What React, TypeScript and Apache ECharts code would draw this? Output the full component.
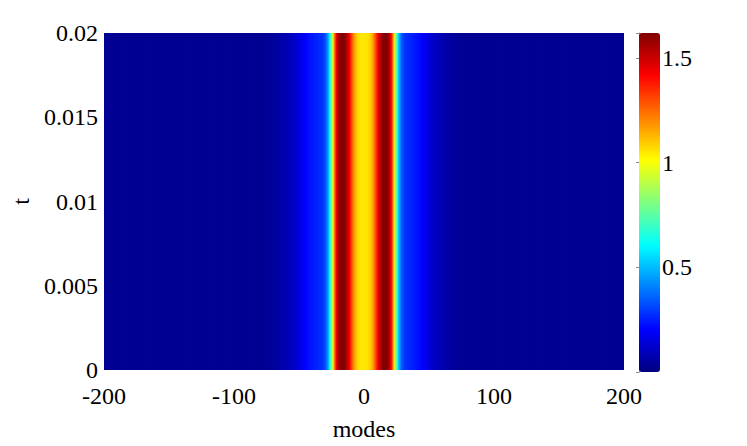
import React, { useEffect, useRef } from "react";
import * as echarts from "echarts";

// |mode| -> value profile (modes 0..80), symmetric in mode
const profile: number[] = [
  1.05, 1.05, 1.05, 1.06, 1.07, 1.09, 1.12, 1.16, 1.22, 1.29,
  1.36, 1.43, 1.49, 1.54, 1.58, 1.61, 1.62, 1.62, 1.61, 1.58,
  1.53, 1.44, 1.3, 1.12, 0.95, 0.78, 0.62, 0.5, 0.42, 0.36,
  0.32, 0.3, 0.28, 0.275, 0.27, 0.265, 0.26, 0.255, 0.25, 0.245,
  0.24, 0.235, 0.23, 0.22, 0.21, 0.2, 0.19, 0.18, 0.17, 0.16,
  0.15, 0.14, 0.13, 0.12, 0.115, 0.11, 0.1, 0.095, 0.09, 0.085,
  0.08, 0.075, 0.07, 0.066, 0.063, 0.06, 0.057, 0.054, 0.051, 0.048,
  0.045, 0.043, 0.041, 0.039, 0.037, 0.035, 0.034, 0.033, 0.032, 0.031,
  0.03,
];
const tailValue = 0.03;
const modeMin = -200;
const modeMax = 200;
const tMin = 0;
const tMax = 0.02;
const xTicks = [-200, -100, 0, 100, 200];
const yTicks = [0, 0.005, 0.01, 0.015, 0.02];
const cbarTicks = [0.5, 1, 1.5];
const cMin = 0;
const cMax = 1.62;
const jet = [
  "#000080", "#0000ff", "#0080ff", "#00ffff", "#80ff80",
  "#ffff00", "#ff8000", "#ff0000", "#800000",
];

const data: number[][] = [];
for (let m = modeMin; m <= modeMax; m++) {
  const a = Math.abs(m);
  data.push([m, a < profile.length ? profile[a] : tailValue]);
}

const FONT = "'Liberation Serif', 'Times New Roman', serif";
const FS = 24;

export default function App() {
  const ref = useRef<HTMLDivElement>(null);
  useEffect(() => {
    if (!ref.current) return;
    const chart = echarts.init(ref.current, null, { renderer: "svg" });
    chart.setOption({
      animation: false,
      backgroundColor: "#ffffff",
      grid: [
        { left: 104, right: 123, top: 33, bottom: 74 },
        { left: 639, width: 21, top: 33, bottom: 74 },
      ],
      xAxis: [
        {
          type: "value",
          gridIndex: 0,
          min: modeMin,
          max: modeMax,
          interval: 100,
          name: "modes",
          nameLocation: "middle",
          nameGap: 47,
          nameTextStyle: { fontFamily: FONT, fontSize: FS, color: "#000" },
          axisLine: { show: false },
          axisTick: { show: false },
          splitLine: { show: false },
          axisLabel: {
            fontFamily: FONT,
            fontSize: FS,
            color: "#000",
            margin: 14,
            formatter: (v: number) => (xTicks.includes(v) ? String(v) : ""),
          },
        },
        {
          type: "value",
          gridIndex: 1,
          min: 0,
          max: 1,
          show: false,
        },
      ],
      yAxis: [
        {
          type: "value",
          gridIndex: 0,
          min: tMin,
          max: tMax,
          interval: 0.005,
          name: "t",
          nameLocation: "middle",
          nameGap: 68,
          nameRotate: 90,
          nameTextStyle: { fontFamily: FONT, fontSize: FS, color: "#000" },
          axisLine: { show: false },
          axisTick: { show: false },
          splitLine: { show: false },
          axisLabel: {
            fontFamily: FONT,
            fontSize: FS,
            color: "#000",
            margin: 6,
            formatter: (v: number) => {
              const r = +v.toFixed(3);
              return yTicks.some((t) => Math.abs(t - r) < 1e-9) ? String(r) : "";
            },
          },
        },
        {
          type: "value",
          gridIndex: 1,
          position: "right",
          min: cMin,
          max: cMax,
          interval: 0.5,
          axisLine: { show: true, lineStyle: { color: "#888", width: 1 } },
          axisTick: { show: true, inside: true, length: 3, lineStyle: { color: "#888" } },
          splitLine: { show: false },
          axisLabel: {
            fontFamily: FONT,
            fontSize: FS,
            color: "#000",
            margin: 2,
            formatter: (v: number) => (cbarTicks.includes(+v.toFixed(2)) ? String(+v.toFixed(2)) : ""),
          },
        },
      ],
      visualMap: {
        type: "continuous",
        min: cMin,
        max: cMax,
        dimension: 1,
        seriesIndex: 0,
        calculable: false,
        realtime: false,
        showLabel: false,
        text: ["", ""],
        itemWidth: 21,
        itemHeight: 339,
        left: 639,
        top: 33,
        padding: 0,
        inRange: { color: jet },
      },
      series: [
        {
          type: "custom",
          xAxisIndex: 0,
          yAxisIndex: 0,
          clip: true,
          data,
          renderItem: (params: any, api: any) => {
            const m = api.value(0);
            const p0 = api.coord([m - 0.5, tMax]);
            const p1 = api.coord([m + 0.5, tMin]);
            const c = api.visual("color");
            return {
              type: "rect",
              shape: {
                x: p0[0],
                y: p0[1],
                width: p1[0] - p0[0] + 0.6,
                height: p1[1] - p0[1],
              },
              style: { fill: c, stroke: c, lineWidth: 0.6 },
            };
          },
        },
      ],
    });
    return () => chart.dispose();
  }, []);
  return <div ref={ref} style={{ width: 747, height: 446, position: "fixed", left: 0, top: 0 }} />;
}
